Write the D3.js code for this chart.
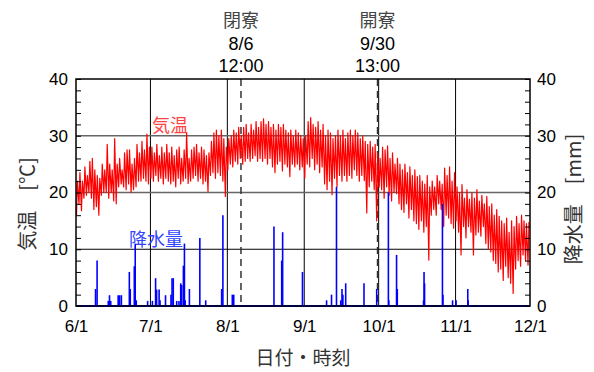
<!DOCTYPE html>
<html>
<head>
<meta charset="utf-8">
<script src="https://cdn.jsdelivr.net/npm/d3@7"></script>
<style>
  html, body { margin: 0; padding: 0; background: #fff; }
  svg { display: block; font-family: "Liberation Sans", "Noto Sans CJK JP", sans-serif; }
</style>
</head>
<body>
<div id="chart"></div>
<script>
"use strict";

// daily high / low air temperature (deg C), one value per day
const junHigh = [22, 23.5, 22, 24.5, 23, 25.5, 26, 24, 23, 22.5, 25, 24, 28.5, 25, 24, 29.5, 25, 26, 24, 27, 27.5, 27.5, 25, 26, 28.5, 27, 29, 27.5, 30.3, 28];
const junLow  = [16, 18, 16.8, 19, 19.5, 20, 19, 17, 17.5, 16, 19.5, 20, 20, 19, 20, 18.5, 18, 21, 21.5, 21, 20.5, 21.5, 20, 20.5, 21, 22, 22, 22.5, 22, 21.5];
const julHigh = [28, 27, 28.5, 26.5, 28, 27, 28.5, 27, 28, 26.5, 27.5, 28, 26, 27.5, 30.5, 26, 27.5, 28, 28.5, 27, 28, 27.5, 26.5, 27, 29, 30.5, 31, 30, 31, 29.5, 28];
const julLow  = [22.5, 22, 23, 22, 22.5, 21.5, 22.5, 22, 21.5, 22, 21, 22.5, 21.5, 22, 22.5, 21.6, 22, 22.5, 23, 22, 22.5, 21.5, 22, 20.2, 23, 23.5, 22.5, 23.5, 23, 22, 19.3];
const augHigh = [29.5, 30, 31, 30.5, 31.5, 30, 31.5, 32, 30.5, 32, 31, 32.5, 31.5, 32.5, 33, 32, 32.5, 31.5, 32, 31, 32, 31.5, 32, 31, 30.5, 31, 30, 31, 30.5, 30, 29.5];
const augLow  = [24, 25, 24.5, 25.5, 25, 26, 25, 25.5, 26, 25.5, 26, 26.5, 25.5, 26, 25.5, 26, 25, 26, 24.5, 23.5, 25, 25.5, 23.8, 25, 24.5, 22.8, 25, 24.5, 25, 24, 24.5];
const sepHigh = [30, 32.5, 33.2, 32, 31.5, 32.5, 31, 32, 30, 31, 30.5, 29.5, 30, 31, 30, 31, 29.5, 30.5, 31, 30, 31, 30.5, 29.5, 30, 29, 28.5, 29, 28, 28.5, 27];
const sepLow  = [22.5, 25, 24.5, 26, 24, 25, 23.5, 24.5, 21.5, 20.5, 22, 19.6, 22.5, 21, 23, 22, 23, 22, 23, 22.5, 24, 23, 22, 23, 22.1, 16.4, 21, 22, 20.5, 15];
const octHigh = [26, 28, 27.5, 28.2, 26, 27, 25, 26, 25, 24, 25, 23.5, 24.5, 23, 24, 22.8, 23, 22, 21.5, 23, 21, 22, 21, 23, 22, 21.5, 24.3, 23, 24.5, 22, 23.5];
const octLow  = [21, 20.5, 19, 21, 19.5, 18.5, 20, 19.8, 18, 17, 16.5, 18, 15.5, 17, 15, 14.5, 13.5, 15, 13, 14, 8.1, 16, 17, 16, 18, 17, 14, 16, 15.5, 14.5, 13.7];
const novHigh = [21, 20, 21.4, 19, 20.5, 18.8, 20, 19, 20.5, 18.5, 19.5, 18, 19.3, 17.5, 18, 16, 17, 15.8, 15, 14.5, 15.5, 13, 15, 14, 15.8, 14.5, 16, 15, 14.5, 14.8];
const novLow  = [15, 13, 9, 14, 12, 14, 13, 9, 12.5, 13, 12.3, 14, 11, 10, 9.5, 8, 7.5, 6, 6.5, 4.5, 7, 5, 4, 2.2, 6.5, 8, 7, 9, 8, 7.2];

// precipitation events: time and amount (mm)
const rainTimes = ["6/8 21:00", "6/9 12:00", "6/14 00:00", "6/14 12:00", "6/15 00:00", "6/18 00:00", "6/18 14:00", "6/19 07:00",
  "6/22 12:00", "6/22 21:00", "6/24 12:00", "6/24 21:00", "6/25 07:00", "6/29 21:00", "7/1 19:00", "7/3 02:00", "7/3 12:00",
  "7/4 12:00", "7/4 21:00", "7/7 02:00", "7/9 07:00", "7/9 17:00", "7/10 05:00", "7/11 14:00", "7/12 12:00", "7/13 05:00",
  "7/13 14:00", "7/14 07:00", "7/14 17:00", "7/15 00:00", "7/16 17:00", "7/20 22:00", "7/23 07:00", "7/29 17:00", "7/30 05:00",
  "8/3 00:00", "8/3 14:00", "8/19 19:00", "8/22 22:00", "8/23 07:00", "8/31 07:00", "9/10 00:00", "9/12 00:00", "9/14 00:00",
  "9/15 17:00", "9/16 05:00", "9/16 14:00", "9/17 17:00", "9/25 02:00", "9/30 05:00", "10/4 22:00", "10/5 02:00", "10/8 05:00",
  "10/8 12:00", "10/19 02:00", "10/19 07:00", "10/19 12:00", "10/26 17:00", "10/26 22:00", "10/30 19:00", "11/1 05:00",
  "11/5 22:00", "11/6 02:00"];
const rainMm = [3, 8, 0.9, 1.9, 0.9, 1.9, 1.9, 1.9,
  6, 3, 7, 11, 1, 0.9, 0.9, 4.9, 2.9,
  2.9, 1, 1.9, 2, 4.9, 4.9, 0.9, 0.9, 4,
  3.7, 7.1, 11, 1, 3, 12, 1, 3, 16,
  2, 2, 14, 8, 13, 6, 1, 2, 21,
  1, 3, 2, 4, 4, 3, 20, 1, 9,
  3, 1, 6, 4, 18, 2, 1, 1,
  3, 1];

const monthTicks = ["6/1", "7/1", "8/1", "9/1", "10/1", "11/1", "12/1"];
const yTicks = [0, 10, 20, 30, 40];
const events = [
  {name: "閉寮", date: "8/6", time: "12:00"},
  {name: "開寮", date: "9/30", time: "13:00"},
];

const W = 594, H = 372;
const margin = {top: 79, right: 64, bottom: 66, left: 76};
const width = W - margin.left - margin.right;
const height = H - margin.top - margin.bottom;
const cjk = "'Noto Sans CJK JP', sans-serif";

const parse = d3.timeParse("%m/%d %H:%M");
const startDay = parse("6/1 00:00");

const highs = junHigh.concat(julHigh, augHigh, sepHigh, octHigh, novHigh);
const lows = junLow.concat(julLow, augLow, sepLow, octLow, novLow);
const temps = [];
highs.forEach((hi, i) => {
  const day = d3.timeDay.offset(startDay, i);
  temps.push({t: d3.timeHour.offset(day, 5), v: lows[i]});
  temps.push({t: d3.timeHour.offset(day, 14), v: hi});
});

const x = d3.scaleTime()
  .domain([startDay, parse("12/1 00:00")])
  .range([0, width]);
const y = d3.scaleLinear()
  .domain([0, 40])
  .range([height, 0]);

const svg = d3.select("#chart").append("svg")
  .attr("width", W)
  .attr("height", H)
  .append("g")
  .attr("transform", "translate(" + margin.left + "," + margin.top + ")");

// grid
const monthDates = monthTicks.map((m) => parse(m + " 00:00"));
svg.append("g").selectAll("line")
  .data(monthDates.slice(1, -1))
  .join("line")
  .attr("x1", (d) => x(d)).attr("x2", (d) => x(d))
  .attr("y1", 0).attr("y2", height)
  .attr("stroke", "#000").attr("stroke-width", 1);
svg.append("g").selectAll("line")
  .data(yTicks.slice(1, -1))
  .join("line")
  .attr("x1", 0).attr("x2", width)
  .attr("y1", (d) => y(d)).attr("y2", (d) => y(d))
  .attr("stroke", (d) => d === 10 ? "#000" : "#666")
  .attr("stroke-width", (d) => d === 10 ? 1 : 1.5);

// event lines
svg.append("g").selectAll("line")
  .data(events)
  .join("line")
  .attr("x1", (d) => x(parse(d.date + " " + d.time)))
  .attr("x2", (d) => x(parse(d.date + " " + d.time)))
  .attr("y1", 0).attr("y2", height)
  .attr("stroke", "#333").attr("stroke-width", 1.5)
  .attr("stroke-dasharray", "7,5");

// temperature
const line = d3.line()
  .x((d) => x(d.t))
  .y((d) => y(d.v));
svg.append("path")
  .datum(temps)
  .attr("fill", "none")
  .attr("stroke", "#ff0000")
  .attr("stroke-width", 1.2)
  .attr("stroke-linejoin", "round")
  .attr("d", line);

// precipitation
svg.append("g").selectAll("line")
  .data(rainTimes.map((t, i) => ({t: parse(t), v: rainMm[i]})))
  .join("line")
  .attr("x1", (d) => x(d.t)).attr("x2", (d) => x(d.t))
  .attr("y1", y(0)).attr("y2", (d) => y(d.v))
  .attr("stroke", "#0000ff").attr("stroke-width", 1.6);
svg.append("line")
  .attr("x1", 0).attr("x2", width)
  .attr("y1", y(0)).attr("y2", y(0))
  .attr("stroke", "#0000ff").attr("stroke-width", 2);

// axes
const minor = d3.range(0, 41, 2);
const fmt = (d) => d % 10 === 0 ? d : "";
const left = svg.append("g")
  .call(d3.axisLeft(y).tickValues(minor).tickFormat(fmt).tickSize(-5).tickSizeOuter(0).tickPadding(8));
const right = svg.append("g")
  .attr("transform", "translate(" + width + ",0)")
  .call(d3.axisRight(y).tickValues(minor).tickFormat(fmt).tickSize(-5).tickSizeOuter(0).tickPadding(7));
[left, right].forEach((g) => {
  g.select(".domain").remove();
  g.selectAll("line").attr("stroke", "#000").attr("stroke-width", 1);
  g.selectAll("text").style("font-size", "17px").attr("fill", "#000")
    .style("font-family", "'Liberation Sans', sans-serif");
});
const bottom = svg.append("g")
  .attr("transform", "translate(0," + height + ")")
  .call(d3.axisBottom(x).tickValues(monthDates).tickFormat((d, i) => monthTicks[i]).tickSize(0).tickPadding(14));
bottom.select(".domain").remove();
bottom.selectAll("text").style("font-size", "17px").attr("fill", "#000")
  .style("font-family", "'Liberation Sans', sans-serif");

svg.append("rect")
  .attr("width", width).attr("height", height)
  .attr("fill", "none").attr("stroke", "#000").attr("stroke-width", 1.5);

// event labels
events.forEach((e) => {
  const ex = x(parse(e.date + " " + e.time));
  [e.name, e.date, e.time].forEach((s, i) => {
    svg.append("text")
      .attr("x", ex).attr("y", -52 + i * 22.5)
      .attr("text-anchor", "middle")
      .attr("fill", i === 0 ? "#444" : "#000")
      .style("font-size", "18px")
      .text(s);
  });
});

// series labels
svg.append("text")
  .attr("x", 76).attr("y", 53)
  .attr("fill", "#ff4444")
  .style("font-size", "18px")
  .style("font-family", cjk)
  .text("気温");
svg.append("text")
  .attr("x", 53).attr("y", 167)
  .attr("fill", "#3344ff")
  .style("font-size", "18px")
  .style("font-family", cjk)
  .text("降水量");

// axis titles
svg.append("text")
  .attr("text-anchor", "middle")
  .attr("fill", "#333")
  .style("font-size", "20px")
  .style("font-family", cjk)
  .attr("transform", "translate(-41," + 125 + ")rotate(-90)")
  .text("気温　[℃]");
svg.append("text")
  .attr("text-anchor", "middle")
  .attr("fill", "#333")
  .style("font-size", "20px")
  .style("font-family", cjk)
  .attr("transform", "translate(" + (width + 51) + "," + 120 + ")rotate(-90)")
  .text("降水量　[mm]");
svg.append("text")
  .attr("x", width / 2).attr("y", height + 59)
  .attr("text-anchor", "middle")
  .attr("fill", "#333")
  .style("font-size", "19px")
  .style("font-family", cjk)
  .text("日付・時刻");
</script>
</body>
</html>
